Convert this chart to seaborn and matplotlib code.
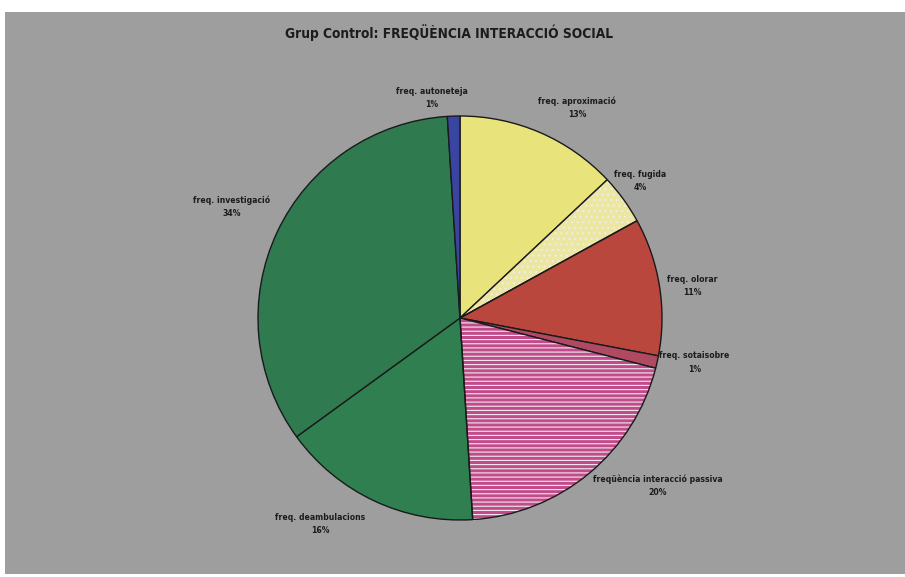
import numpy as np
import matplotlib
matplotlib.use("Agg")
import matplotlib.pyplot as plt
import seaborn as sns
from matplotlib.patches import Rectangle, Wedge

sns.set_style("white")
plt.rcParams["font.family"] = ["DejaVu Sans"]
plt.rcParams["hatch.linewidth"] = 0.8

# data, clockwise from 12 o'clock
labels = ["freq. aproximació", "freq. fugida", "freq. olorar", "freq. sotaisobre",
          "freqüència interacció passiva", "freq. deambulacions",
          "freq. investigació", "freq. autoneteja"]
values = [13, 4, 11, 1, 20, 16, 34, 1]
colors = ["#e9e37c", "#ebe6a0", "#b9473d", "#b04a62",
          "#c24b8a", "#2f7f50", "#2f7a4f", "#3a45a2"]
hatches = [None, "...", None, None, "----", None, None, None]
# label anchor points, in units of the pie radius
label_pos = [(0.58, 1.04), (0.89, 0.68), (1.15, 0.16), (1.16, -0.22),
             (0.98, -0.83), (-0.69, -1.02), (-1.13, 0.55), (-0.14, 1.09)]

fig = plt.figure(figsize=(9.05, 5.77), dpi=100)
fig.patch.set_facecolor("white")

# grey chart area
fig.add_artist(Rectangle((5 / 905, 3 / 577), 900 / 905, 562 / 577,
                         transform=fig.transFigure, facecolor="#9e9e9e",
                         edgecolor="none", zorder=0))

ax = fig.add_axes([258 / 905, 57 / 577, 404 / 905, 404 / 577])
ax.set_facecolor("none")

wedges, _ = ax.pie(values, colors=colors, startangle=90, counterclock=False,
                   wedgeprops=dict(edgecolor="#1a1a1a", linewidth=1.0))
for w, h in zip(wedges, hatches):
    if h:
        w.set_hatch(h)
        w.set_edgecolor("#f2eaf2")
        w.set_linewidth(0)
        ax.add_patch(Wedge(w.center, w.r, w.theta1, w.theta2, fill=False,
                           edgecolor="#1a1a1a", linewidth=1.0))

for lab, v, (x, y) in zip(labels, values, label_pos):
    ax.text(x, y, f"{lab}\n{v}%", ha="center", va="center", fontsize=6.2,
            fontweight="bold", fontstretch="condensed", color="#1c1c1c",
            linespacing=1.6)

ax.set_xlim(-1, 1)
ax.set_ylim(-1, 1)
ax.set_aspect("equal")
ax.axis("off")

fig.text(449 / 905, 1 - 33 / 577, "Grup Control: FREQÜÈNCIA INTERACCIÓ SOCIAL",
         ha="center", va="center", fontsize=9.8, fontweight="bold",
         fontstretch="condensed", color="#1c1c1c")

fig.savefig("out.png", dpi=100, facecolor=fig.get_facecolor())
